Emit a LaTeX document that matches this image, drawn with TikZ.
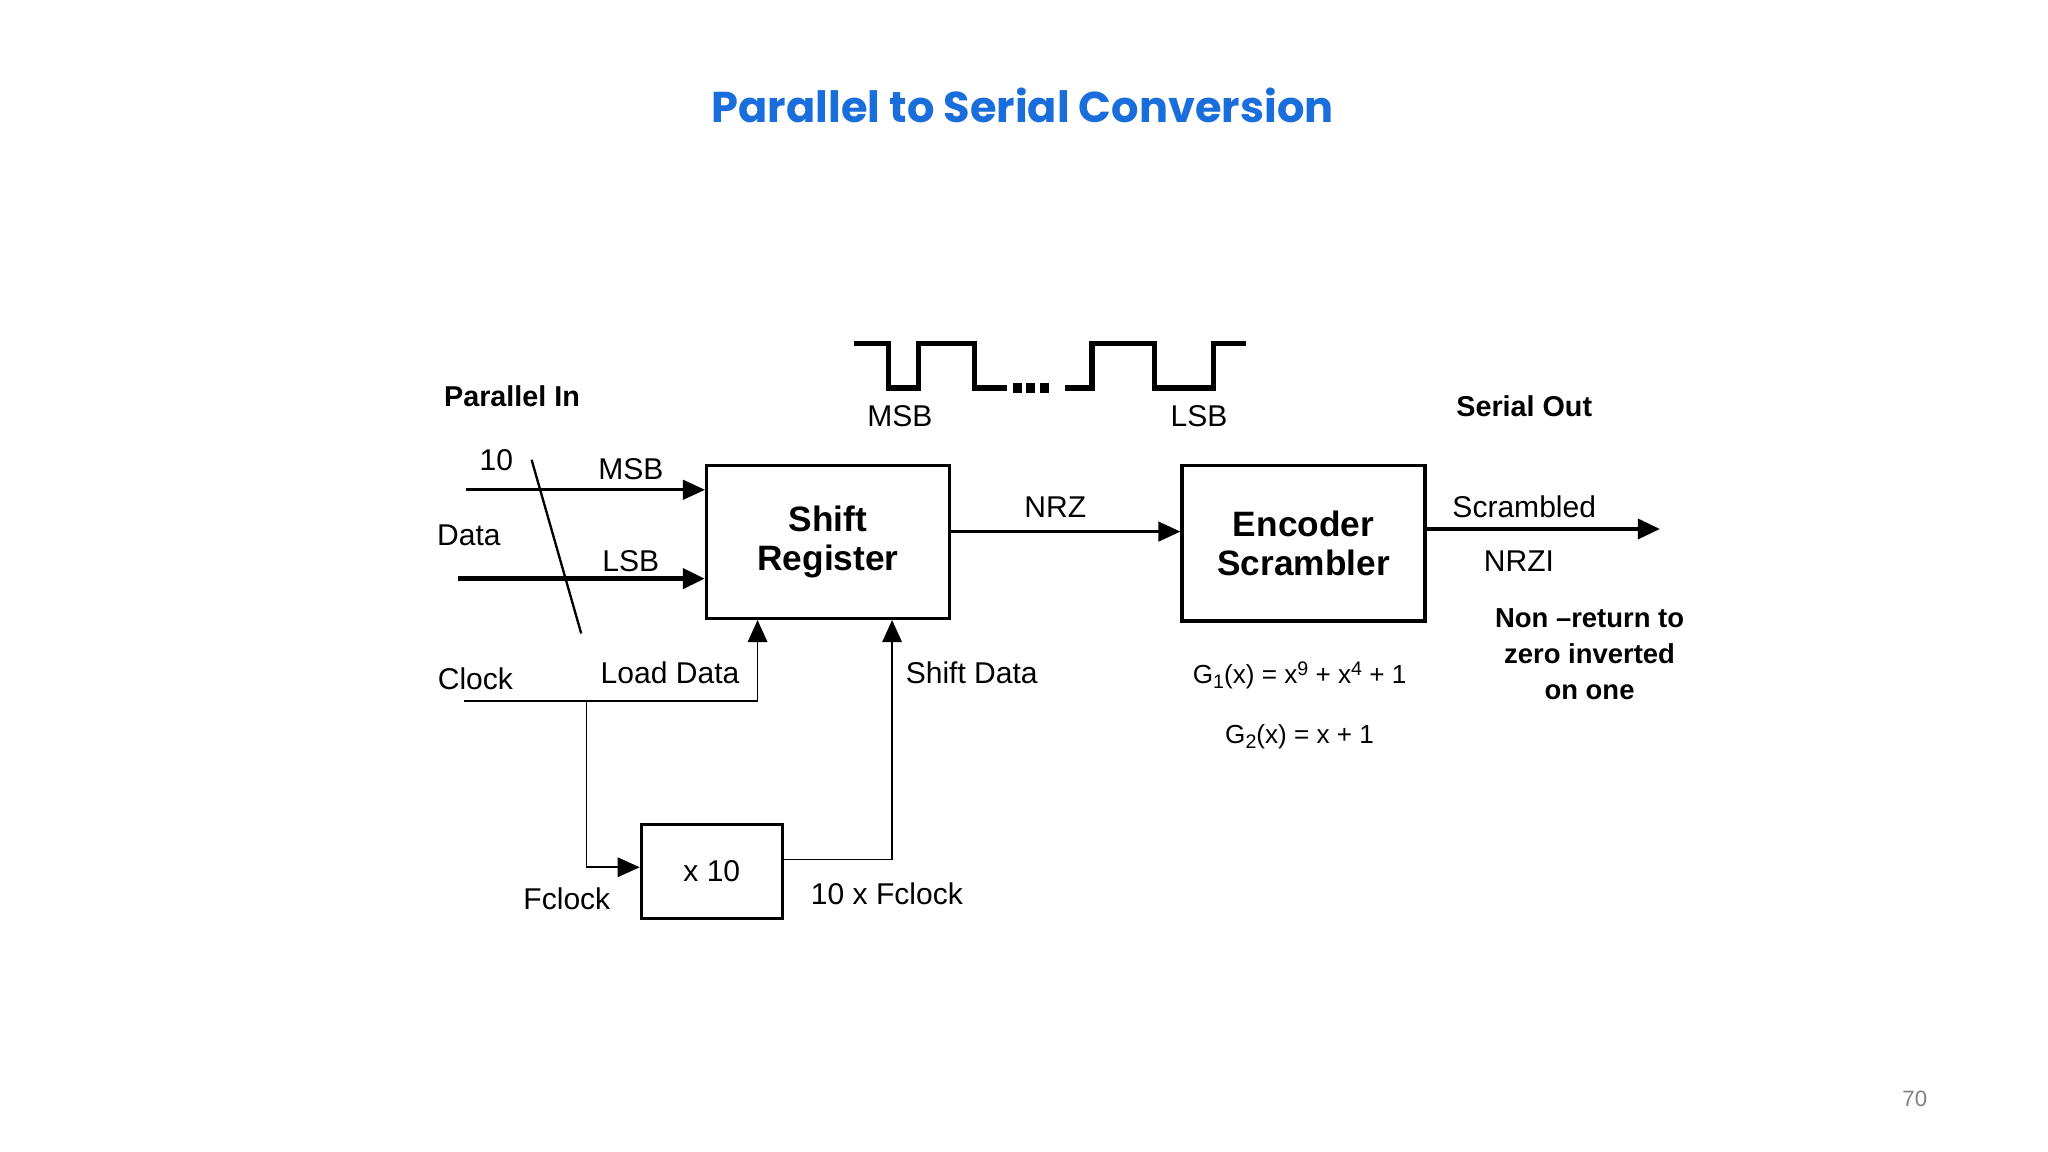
\documentclass[tikz,border=0pt]{standalone}
\usepackage{fontspec}
\setmainfont{Liberation Sans}
\newfontfamily\titlefont{Poppins}
\usetikzlibrary{arrows.meta}
\definecolor{titleblue}{RGB}{26,110,220}
\newcommand{\sbs}[1]{\raisebox{-0.35ex}{\fontsize{15}{16}\selectfont #1}}
\newcommand{\sps}[1]{\raisebox{0.6ex}{\fontsize{15}{16}\selectfont #1}}
\begin{document}
\begin{tikzpicture}[x=1pt,y=-1pt,
  box/.style={draw,line width=2.4pt,inner sep=0pt},
  lbl/.style={font=\fontsize{23}{25}\selectfont},
  blbl/.style={font=\fontsize{22}{25}\selectfont\bfseries},
  arr/.style={-{Triangle[length=17pt,width=15pt]}},
  thin/.style={line width=1.4pt}]
\useasboundingbox (0,0) rectangle (1568,882);
\node[font=\titlefont\fontsize{33}{36}\selectfont\bfseries,text=titleblue] (title) at (783,81) {Parallel to Serial Conversion};
% boxes
\node[box,minimum width=186pt,minimum height=117pt,align=center,font=\fontsize{27}{30}\selectfont\bfseries] (sr) at (634,415) {Shift\\Register};
\node[box,minimum width=186pt,minimum height=119pt,align=center,font=\fontsize{27}{30}\selectfont\bfseries] (es) at (998,416) {Encoder\\Scrambler};
\node[box,minimum width=108pt,minimum height=72pt,lbl] (x10) at (545,667) {x 10};
% inputs
\coordinate (msbin) at (357,375);
\coordinate (lsbin) at (351,443);
\draw[line width=2.2pt,arr] (msbin) -- (msbin -| sr.west);
\draw[line width=4pt,arr] (lsbin) -- (lsbin -| sr.west);
\coordinate (s1) at (407,352); \coordinate (s2) at (445,485);
\draw[line width=1.8pt] (s1) -- (s2);
\node[lbl] (n10) at (380,352) {10};
\node[lbl] (lmsb) at (483,359) {MSB};
\node[lbl] (ldata) at (359,410) {Data};
\node[lbl] (llsb) at (483,430) {LSB};
\node[blbl] (pin) at (392,303) {Parallel In};
\node[lbl] (lclk) at (364,520) {Clock};
\node[lbl] (lload) at (513,515) {Load Data};
\node[lbl] (lshift) at (744,515) {Shift Data};
% clock
\coordinate (c0) at (355,537);
\coordinate (c1) at (580,537);
\coordinate (cb) at (449,537);
\draw[thin] (c0) -- (c1);
\draw[thin,arr] (c1) -- (c1 |- sr.south);
\draw[thin,arr] (cb) -- (449,664) -- (x10.west |- 0,664);
\coordinate (o1) at (683,658);
\draw[thin,arr] (x10.east |- o1) -- (o1) -- (o1 |- sr.south);
\node[lbl] (lfc) at (434,688) {Fclock};
\node[lbl] (l10fc) at (679,684) {10 x Fclock};
% NRZ
\draw[line width=2.2pt,arr] (sr.east |- 0,407) -- (es.west |- 0,407);
\node[lbl] (lnrz) at (808,388) {NRZ};
\coordinate (out) at (1271,405);
\draw[line width=3.5pt,arr] (es.east |- out) -- (out);
\node[lbl] (lscr) at (1167,388) {Scrambled};
\node[lbl] (lnrzi) at (1163,430) {NRZI};
\node[blbl] (sout) at (1167,311) {Serial Out};
\node[align=center,font=\fontsize{21}{27.5}\selectfont\bfseries] (non) at (1217,501) {Non –return to\\zero inverted\\on one};
\node[font=\fontsize{20}{22}\selectfont] (g1) at (995,517) {G\sbs{1}(x) = x\sps{9} + x\sps{4} + 1};
\node[font=\fontsize{20}{22}\selectfont] (g2) at (995,564) {G\sbs{2}(x) = x + 1};
% waveform
\draw[line width=4pt] (654,263) -- (680,263) -- (680,297) -- (703,297) -- (703,263) -- (746,263) -- (746,297) -- (771,297);
\foreach \x in {779,789,800} \fill (\x-3.5,293) rectangle (\x+3.5,301);
\draw[line width=4pt] (815,297) -- (836,297) -- (836,263) -- (884,263) -- (884,297) -- (929,297) -- (929,263) -- (954,263);
\node[lbl] (wmsb) at (689,319) {MSB};
\node[lbl] (wlsb) at (918,319) {LSB};
\node[font=\fontsize{17}{18}\selectfont,text=gray] (pg) at (1466,841) {70};
\end{tikzpicture}
\end{document}
